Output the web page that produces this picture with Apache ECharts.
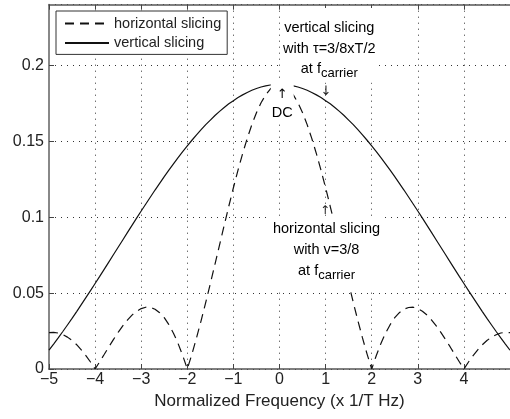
<!DOCTYPE html>
<html>
<head>
<meta charset="utf-8">
<script src="https://cdn.jsdelivr.net/npm/echarts@6/dist/echarts.min.js"></script>
<style>
html,body{margin:0;padding:0;background:#fff;}
#c{width:510px;height:419px;}
</style>
</head>
<body>
<div id="c"></div>
<script>
// Normalized frequency samples (x 1/T Hz)
const freq = [
-5.0,-4.9,-4.8,-4.7,-4.6,-4.5,-4.4,-4.3,-4.2,-4.1,
-4.0,-3.9,-3.8,-3.7,-3.6,-3.5,-3.4,-3.3,-3.2,-3.1,
-3.0,-2.9,-2.8,-2.7,-2.6,-2.5,-2.4,-2.3,-2.2,-2.1,
-2.0,-1.9,-1.8,-1.7,-1.6,-1.5,-1.4,-1.3,-1.2,-1.1,
-1.0,-0.9,-0.8,-0.7,-0.6,-0.5,-0.4,-0.3,-0.2,-0.1,
0.0,
0.1,0.2,0.3,0.4,0.5,0.6,0.7,0.8,0.9,1.0,
1.1,1.2,1.3,1.4,1.5,1.6,1.7,1.8,1.9,2.0,
2.1,2.2,2.3,2.4,2.5,2.6,2.7,2.8,2.9,3.0,
3.1,3.2,3.3,3.4,3.5,3.6,3.7,3.8,3.9,4.0,
4.1,4.2,4.3,4.4,4.5,4.6,4.7,4.8,4.9,5.0
];
// horizontal slicing (dashed)
const horizontalSlicing = [
0.0239,0.0241,0.0237,0.0226,0.0210,0.0188,0.0160,0.0126,0.0088,0.0046,
0.0000,0.0048,0.0097,0.0147,0.0195,0.0241,0.0284,0.0322,0.0355,0.0380,
0.0398,0.0407,0.0405,0.0394,0.0371,0.0338,0.0292,0.0236,0.0168,0.0089,
0.0000,0.0098,0.0205,0.0319,0.0439,0.0563,0.0690,0.0818,0.0946,0.1072,
0.1194,0.1310,0.1419,0.1519,0.1610,0.1688,0.1754,0.1806,0.1844,0.1867,
0.1875,
0.1867,0.1844,0.1806,0.1754,0.1688,0.1610,0.1519,0.1419,0.1310,0.1194,
0.1072,0.0946,0.0818,0.0690,0.0563,0.0439,0.0319,0.0205,0.0098,0.0000,
0.0089,0.0168,0.0236,0.0292,0.0338,0.0371,0.0394,0.0405,0.0407,0.0398,
0.0380,0.0355,0.0322,0.0284,0.0241,0.0195,0.0147,0.0097,0.0048,0.0000,
0.0046,0.0088,0.0126,0.0160,0.0188,0.0210,0.0226,0.0237,0.0241,0.0239
];
// vertical slicing (solid)
const verticalSlicing = [
0.0124,0.0164,0.0205,0.0247,0.0290,0.0333,0.0378,0.0424,0.0470,0.0516,
0.0563,0.0610,0.0658,0.0706,0.0754,0.0802,0.0850,0.0898,0.0946,0.0994,
0.1041,0.1087,0.1133,0.1179,0.1223,0.1267,0.1310,0.1352,0.1393,0.1432,
0.1470,0.1507,0.1543,0.1577,0.1610,0.1640,0.1670,0.1697,0.1723,0.1747,
0.1768,0.1788,0.1806,0.1822,0.1836,0.1848,0.1858,0.1865,0.1871,0.1874,
0.1875,
0.1874,0.1871,0.1865,0.1858,0.1848,0.1836,0.1822,0.1806,0.1788,0.1768,
0.1747,0.1723,0.1697,0.1670,0.1640,0.1610,0.1577,0.1543,0.1507,0.1470,
0.1432,0.1393,0.1352,0.1310,0.1267,0.1223,0.1179,0.1133,0.1087,0.1041,
0.0994,0.0946,0.0898,0.0850,0.0802,0.0754,0.0706,0.0658,0.0610,0.0563,
0.0516,0.0470,0.0424,0.0378,0.0333,0.0290,0.0247,0.0205,0.0164,0.0124
];
const seriesNames = ['horizontal slicing', 'vertical slicing'];
const xTicks = [-5,-4,-3,-2,-1,0,1,2,3,4,5];
const yTicks = [0,0.05,0.1,0.15,0.2];

const FONT = '"Liberation Sans", Arial, Helvetica, sans-serif';
const chart = echarts.init(document.getElementById('c'), null, {renderer:'canvas'});

const grid = {left:49, right:-3, top:4.7, bottom:50};
const dotted = {show:true, lineStyle:{color:'#333', width:1, type:[1,5]}};
const frameLine = {show:true, onZero:false, lineStyle:{color:'#555', width:1.5}};

const option = {
  animation:false,
  backgroundColor:'#fff',
  grid: grid,
  legend: {
    orient:'vertical', left:56, top:11,
    data: seriesNames,
    itemWidth:44, itemHeight:14, itemGap:4.4,
    padding:[5,6,4,8],
    borderColor:'#333', borderWidth:1, backgroundColor:'#fff',
    itemStyle:{opacity:0},
    textStyle:{fontFamily:FONT, fontSize:14.5, color:'#222', lineHeight:14},
    z:50
  },
  xAxis: [{
    type:'value', min:xTicks[0], max:xTicks[xTicks.length-1], interval:1,
    position:'bottom',
    name:'Normalized Frequency (x 1/T Hz)', nameLocation:'middle', nameGap:21,
    nameTextStyle:{fontFamily:FONT, fontSize:17, color:'#222'},
    axisLine: frameLine,
    axisTick:{show:true, inside:true, length:5, lineStyle:{color:'#444'}},
    axisLabel:{fontFamily:FONT, fontSize:16, color:'#222', margin:3, showMaxLabel:false,
      formatter: v => v < 0 ? '\u2212' + (-v) : String(v)},
    splitLine: dotted
  },{
    type:'value', min:xTicks[0], max:xTicks[xTicks.length-1], interval:1,
    position:'top',
    axisLine: frameLine,
    axisTick:{show:true, inside:true, length:5, lineStyle:{color:'#444'}},
    axisLabel:{show:false}, splitLine:{show:false}
  }],
  yAxis: [{
    type:'value', min:yTicks[0], max:0.24, interval:0.05,
    position:'left',
    axisLine:{show:true, onZero:false, lineStyle:{color:'#888', width:2}},
    axisTick:{show:true, inside:true, length:5, lineStyle:{color:'#444'}},
    axisLabel:{fontFamily:FONT, fontSize:16, color:'#222', margin:5, showMaxLabel:false,
      formatter: v => String(Math.round(v*100)/100)},
    splitLine: dotted
  }],
  series: [{
    name: seriesNames[0], type:'line', xAxisIndex:0, yAxisIndex:0,
    data: freq.map((f,i)=>[f, horizontalSlicing[i]]),
    symbol:'none', showSymbol:false,
    lineStyle:{color:'#111', width:1.2, type:[9,6]},
    itemStyle:{color:'#111'}, z:3
  },{
    name: seriesNames[1], type:'line', xAxisIndex:0, yAxisIndex:0,
    data: freq.map((f,i)=>[f, verticalSlicing[i]]),
    symbol:'none', showSymbol:false,
    lineStyle:{color:'#111', width:1.2, type:'solid'},
    itemStyle:{color:'#111'}, z:3
  }]
};
chart.setOption(option);

// Annotations positioned in data coordinates
function px(x, y){ return chart.convertToPixel({xAxisIndex:0, yAxisIndex:0}, [x, y]); }
const richA = {
  n:{fontFamily:FONT, fontSize:14.5, color:'#222', lineHeight:20.5},
  s:{fontFamily:FONT, fontSize:13, color:'#222', lineHeight:12, verticalAlign:'bottom'}
};
const richB = {
  n:{fontFamily:FONT, fontSize:14.5, color:'#222', lineHeight:21},
  s:{fontFamily:FONT, fontSize:13, color:'#222', lineHeight:12, verticalAlign:'bottom'}
};
const a1 = px(1.08, 0.2378);
const ar1 = px(1.01, 0.1825);
const dc = px(0.06, 0.1904);
const a2 = px(1.02, 0.1008);
const ar2 = px(0.99, 0.1045);

chart.setOption({
  graphic: [
    {type:'text', x:a1[0], y:a1[1], z:100,
      style:{text:'{n|vertical slicing}\n{n|with \u03c4=3/8xT/2}\n{n|at f}{s|carrier}', rich:richA,
        align:'center', verticalAlign:'top', backgroundColor:'#fff', padding:[10,3,3,3], fontFamily:FONT, fontSize:14.5}},
    {type:'text', x:ar1[0], y:ar1[1], z:100,
      style:{text:'\u2193', fontFamily:'"DejaVu Sans", sans-serif', fontSize:13, fill:'#222', align:'center', verticalAlign:'middle'}},
    {type:'text', x:dc[0], y:dc[1], z:100,
      style:{text:'{a|\u2191}\n{d|DC}', rich:{
          a:{fontFamily:'"DejaVu Sans", sans-serif', fontSize:13, color:'#222', lineHeight:18},
          d:{fontFamily:FONT, fontSize:14.5, color:'#222', lineHeight:18}},
        align:'center', verticalAlign:'top', backgroundColor:'#fff', padding:[6,1,1,1]}},
    {type:'text', x:a2[0], y:a2[1], z:100,
      style:{text:'{n|horizontal slicing}\n{n|with v=3/8}\n{n|at f}{s|carrier}', rich:richB,
        align:'center', verticalAlign:'top', backgroundColor:'#fff', padding:[3,3,7,3], fontFamily:FONT, fontSize:14.5}},
    {type:'text', x:ar2[0], y:ar2[1], z:100,
      style:{text:'\u2191', fontFamily:'"DejaVu Sans", sans-serif', fontSize:12, fill:'#222', align:'center', verticalAlign:'middle'}}
  ]
});
</script>
</body>
</html>
